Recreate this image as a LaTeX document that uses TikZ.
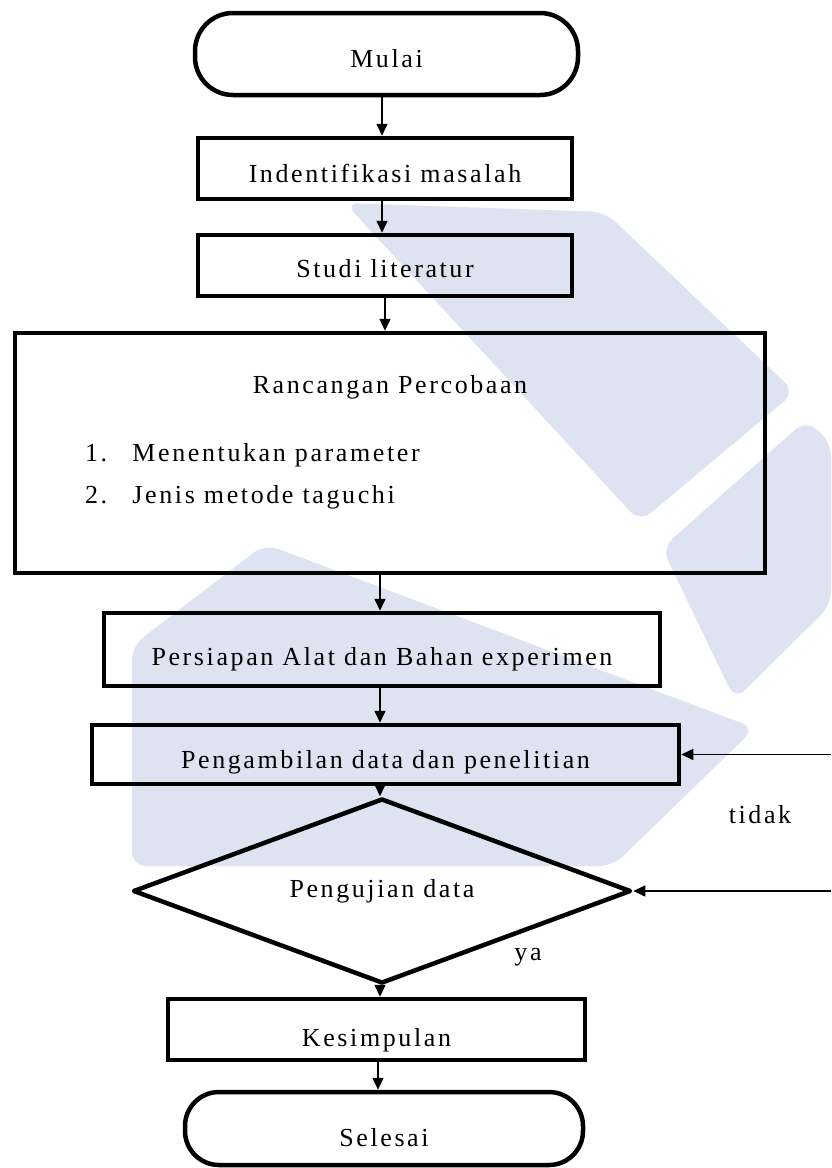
\documentclass[tikz,border=0pt]{standalone}
\usepackage{fontspec}
\setmainfont{Liberation Serif}[LetterSpace=10,Ligatures=NoCommon]
\usetikzlibrary{shapes.geometric,arrows.meta}
\definecolor{wm}{RGB}{222,227,241}
\newcommand\lowered[2]{\raisebox{-#1}[0pt][0pt]{#2}}
\begin{document}
\begin{tikzpicture}[x=1pt,y=-1pt,
  every node/.style={font=\fontsize{26}{42}\selectfont},
  box/.style={draw,line width=4.5pt,rectangle,inner sep=0pt},
  term/.style={draw,line width=4.5pt,rectangle,rounded corners=38pt,inner sep=0pt},
  decision/.style={draw,line width=4.5pt,diamond,inner sep=0pt,line join=round},
  arr/.style={line width=1.5pt,-{Triangle[length=12pt,width=11pt]}},
  lbl/.style={inner sep=0pt,anchor=base},
  wmshape/.style={fill=wm,rounded corners=14pt}]
\useasboundingbox (0,0) rectangle (831,1168);
% watermark
\fill[wmshape] (345,203) -- (605,212) -- (795,392) -- (640,522) -- cycle;
\fill[wmshape] (662,548) -- (806,420) -- (831,442) -- (831,605) -- (735,700) -- cycle;
\fill[wmshape] (265,544) -- (132,646) -- (132,866) -- (613,866) -- (755,728) -- cycle;
% nodes
\node[term,minimum width=383pt,minimum height=82pt] (mulai) at (386.5,54) {\lowered{13pt}{Mulai}};
\node[box,minimum width=374pt,minimum height=61pt] (ind) at (385,168.5) {\lowered{13.5pt}{Indentifikasi masalah}};
\node[box,minimum width=374pt,minimum height=61pt] (studi) at (385,265.5) {\lowered{12pt}{Studi literatur}};
\node[box,minimum width=750pt,minimum height=240pt] (ranc) at (390,453) {\raisebox{60pt}[0pt][0pt]{\parbox[t]{720pt}{\centering Rancangan Percobaan\par\vspace{26pt}\raggedright\leavevmode\hspace*{55pt}\makebox[47.5pt][l]{1.}Menentukan parameter\par\leavevmode\hspace*{55pt}\makebox[47.5pt][l]{2.}Jenis metode taguchi}}};
\node[box,minimum width=556pt,minimum height=73pt] (pers) at (382,649.5) {\lowered{15.5pt}{Persiapan Alat dan Bahan experimen}};
\node[box,minimum width=587pt,minimum height=59pt] (peng) at (385.5,754.5) {\lowered{13.5pt}{Pengambilan data dan penelitian}};
\node[decision,minimum width=498pt,minimum height=145pt] (uji) at (382,891) {\lowered{6pt}{Pengujian data}};
\node[box,minimum width=417pt,minimum height=61pt] (kes) at (376.5,1029.5) {\lowered{16.5pt}{Kesimpulan}};
\node[term,minimum width=398pt,minimum height=73pt,rounded corners=34pt] (sel) at (384,1128.5) {\lowered{17.5pt}{Selesai}};
\node[lbl] (tidak) at (760,823) {tidak};
\node[lbl] (ya) at (528,960) {ya};
% connectors
\coordinate (cA) at (382,0);
\coordinate (cB) at (385,0);
\coordinate (cC) at (380,0);
\coordinate (cD) at (378,0);
\coordinate (r1) at (831,754.5);
\coordinate (r2) at (831,891);
\draw[arr] (mulai.south -| cA) -- (ind.north -| cA);
\draw[arr] (ind.south -| cA) -- (studi.north -| cA);
\draw[arr] (studi.south -| cB) -- (ranc.north -| cB);
\draw[arr] (ranc.south -| cC) -- (pers.north -| cC);
\draw[arr] (pers.south -| cC) -- (peng.north -| cC);
\draw[arr] (peng.south -| cC) -- (uji.north -| cC);
\draw[arr] (uji.south -| cC) -- (kes.north -| cC);
\draw[arr] (kes.south -| cD) -- (sel.north -| cD);
\draw[arr] (r1) -- (peng.east);
\draw[arr] (r2) -- (uji.east);
\end{tikzpicture}
\end{document}
